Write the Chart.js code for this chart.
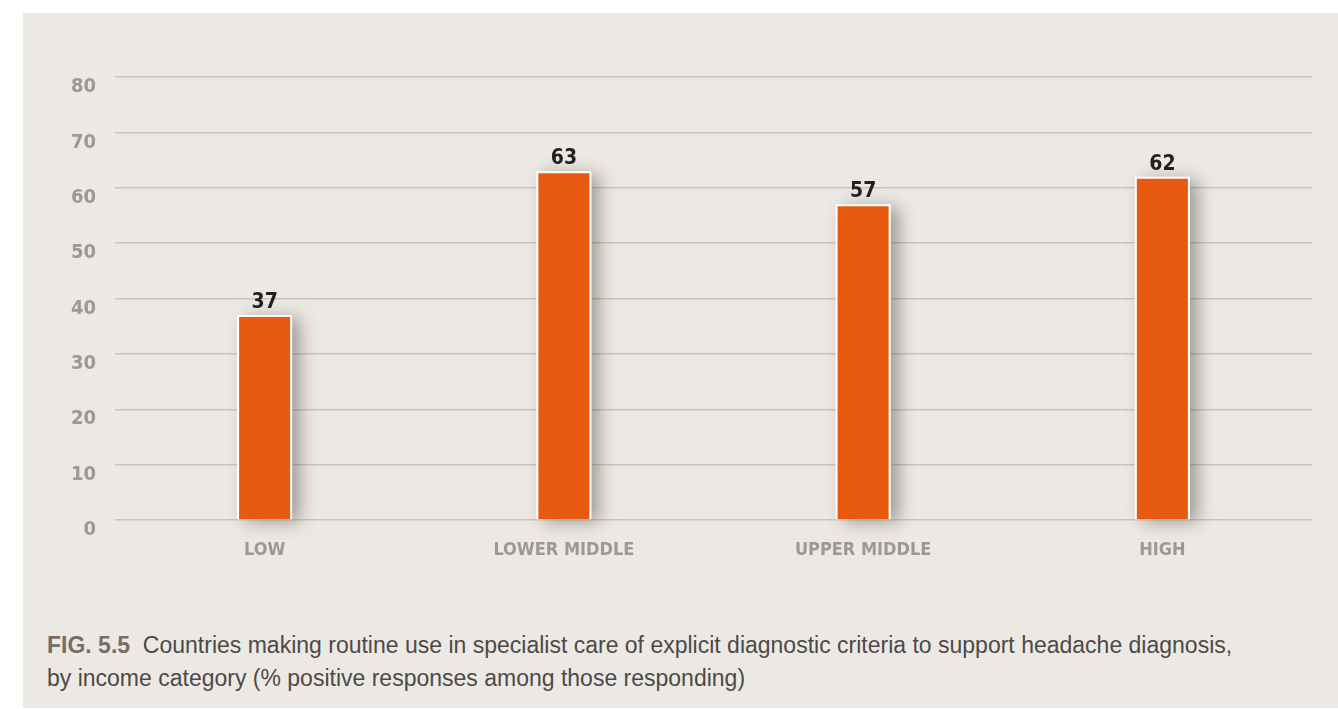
<!DOCTYPE html>
<html lang="en">
<head>
  <meta charset="UTF-8" />
  <title>Fig 5.5</title>
  <script src="https://cdn.jsdelivr.net/npm/chart.js"></script>
  <style>
    html, body { margin: 0; padding: 0; background: #fff; }
    body { width: 1338px; height: 709px; position: relative; overflow: hidden; }
    .panel { position: absolute; left: 23px; top: 13px; width: 1315px; height: 695px; background: #ece9e4; }
    .chart-box { position: absolute; left: 0; top: 0; width: 1315px; height: 570px; }
    .caption {
      position: absolute; left: 24px; top: 616px; width: 1290px;
      font-family: 'Liberation Sans', Arial, sans-serif; font-size: 23px; line-height: 33px; color: #4d4948;
    }
    .caption b { color: #776d68; }
  </style>
</head>
<body>
  <div class="panel">
    <div class="chart-box"><canvas id="chart"></canvas></div>
    <div class="caption"><b>FIG. 5.5</b>&nbsp; Countries making routine use in specialist care of explicit diagnostic criteria to support headache diagnosis,<br>by income category (% positive responses among those responding)</div>
  </div>

  <script>
    const categories = ['LOW', 'LOWER MIDDLE', 'UPPER MIDDLE', 'HIGH'];
    const values = [37, 63, 57, 62];
    const yTicks = [0, 10, 20, 30, 40, 50, 60, 70, 80];

    const condensed = "'Liberation Sans Narrow', 'DejaVu Sans Condensed', Roboto, sans-serif";

    // soft shadow to the right of the bars, drawn behind each bar element
    const barShadow = {
      id: 'barShadow',
      beforeDatasetsDraw(chart) {
        const ctx = chart.ctx;
        const meta = chart.getDatasetMeta(0);
        ctx.save();
        ctx.shadowColor = 'rgba(70,60,50,0.45)';
        ctx.shadowBlur = 16;
        ctx.shadowOffsetX = 8;
        ctx.shadowOffsetY = 3;
        ctx.fillStyle = '#ffffff';
        meta.data.forEach(bar => {
          const left = bar.x - bar.width / 2;
          ctx.fillRect(left, bar.y, bar.width, bar.base - bar.y);
        });
        ctx.restore();
      }
    };

    // value labels above bars
    const valueLabels = {
      id: 'valueLabels',
      afterDatasetsDraw(chart) {
        const ctx = chart.ctx;
        const meta = chart.getDatasetMeta(0);
        ctx.save();
        ctx.font = 'bold 21px ' + condensed;
        ctx.fillStyle = '#231f20';
        ctx.textAlign = 'center';
        ctx.textBaseline = 'bottom';
        meta.data.forEach((bar, i) => {
          ctx.fillText(values[i], bar.x, bar.y - 2);
        });
        ctx.restore();
      }
    };

    new Chart(document.getElementById('chart'), {
      type: 'bar',
      data: {
        labels: categories,
        datasets: [{
          data: values,
          backgroundColor: '#e85a10',
          borderColor: '#ffffff',
          borderWidth: 2,
          borderSkipped: 'bottom',
          barPercentage: 0.184,
          categoryPercentage: 1
        }]
      },
      options: {
        responsive: true,
        maintainAspectRatio: false,
        animation: false,
        layout: { padding: { top: 64, right: 26, bottom: 0, left: 0 } },
        plugins: { legend: { display: false }, tooltip: { enabled: false } },
        scales: {
          x: {
            grid: { display: false, drawTicks: false },
            border: { display: false },
            ticks: { color: '#9d9893', padding: 20, font: { family: condensed, size: 18, weight: 'bold' } },
            afterFit(scale) { scale.height = 63; }
          },
          y: {
            min: 0,
            max: 80,
            afterBuildTicks(scale) { scale.ticks = yTicks.map(v => ({ value: v })); },
            grid: { color: '#c9c4be', lineWidth: 1.5, drawTicks: false },
            border: { display: false },
            ticks: { color: '#9d9893', padding: 19, labelOffset: 10, font: { family: condensed, size: 20, weight: 'bold' } },
            afterFit(scale) { scale.width = 92; }
          }
        }
      },
      plugins: [barShadow, valueLabels]
    });
  </script>
</body>
</html>
